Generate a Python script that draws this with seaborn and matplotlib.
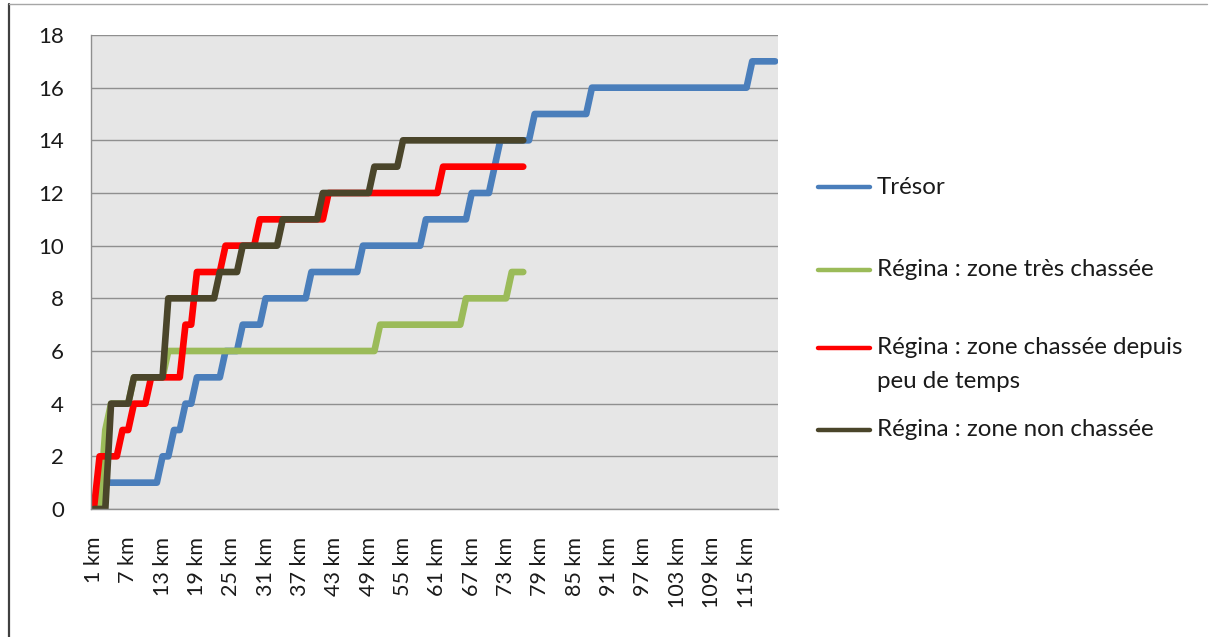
import numpy as np
import pandas as pd
import matplotlib
matplotlib.use('Agg')
import matplotlib.pyplot as plt
from matplotlib.lines import Line2D
import seaborn as sns

# categories : one point per km, 1 km .. 120 km
km = np.arange(1, 121)
tick_km = np.arange(1, 121, 6)
tick_labels = [f"{k} km" for k in tick_km]

# values, stored as (level, number of km at that level)
tresor_levels = [0, 1, 2, 3, 4, 5, 6, 7, 8, 9, 10, 11, 12, 13, 14, 15, 16, 17]
tresor_runs = [1, 11, 2, 2, 2, 5, 3, 4, 8, 9, 11, 8, 4, 1, 6, 10, 28, 5]

tres_chassee_levels = [0, 3, 4, 5, 6, 7, 8, 9]
tres_chassee_runs = [2, 1, 4, 6, 37, 15, 8, 3]

depuis_peu_levels = [0, 2, 3, 4, 5, 7, 9, 10, 11, 12, 13]
depuis_peu_runs = [1, 4, 2, 3, 6, 2, 5, 6, 12, 20, 15]

non_chassee_levels = [0, 4, 5, 8, 9, 10, 11, 12, 13, 14]
non_chassee_runs = [3, 4, 6, 9, 4, 7, 7, 9, 5, 22]

series_names = ["Trésor",
                "Régina : zone très chassée",
                "Régina : zone chassée depuis peu de temps",
                "Régina : zone non chassée"]
colors = ["#4A7EBB", "#9BBB59", "#FF0000", "#4A452A"]

series_data = [(tresor_levels, tresor_runs),
               (tres_chassee_levels, tres_chassee_runs),
               (depuis_peu_levels, depuis_peu_runs),
               (non_chassee_levels, non_chassee_runs)]

rows = []
for name, (lev, runs) in zip(series_names, series_data):
    vals = np.repeat(lev, runs)
    for k, v in zip(km[:len(vals)], vals):
        rows.append({"km": k, "n": v, "serie": name})
df = pd.DataFrame(rows)

sns.set_style("white")
plt.rcParams['font.family'] = ['Lato', 'DejaVu Sans']

W, H = 1214, 637
fig = plt.figure(figsize=(W / 100, H / 100), dpi=100)
ax = fig.add_axes([91 / W, 1 - 509 / H, (778 - 91) / W, (509 - 35) / H])
ax.set_facecolor("#E6E6E6")

sns.lineplot(data=df, x="km", y="n", hue="serie", hue_order=series_names,
             palette=colors, linewidth=4.8, legend=False, errorbar=None, ax=ax)
for ln in ax.lines:
    ln.set_solid_capstyle("round")
    ln.set_solid_joinstyle("round")

ax.set_xlim(0.5, 120.5)
ax.set_ylim(0, 18)
ax.set_yticks(np.arange(0, 19, 2))
ax.yaxis.grid(True, color="#8F8F8F", lw=1.0)
ax.xaxis.grid(False)
ax.set_axisbelow(True)

for s in ["top", "right"]:
    ax.spines[s].set_visible(False)
for s in ["left", "bottom"]:
    ax.spines[s].set_color("#8F8F8F")
    ax.spines[s].set_linewidth(1.0)

ax.set_xticks(tick_km)
ax.set_xticklabels(tick_labels, rotation=90)
ax.set_xticks(np.arange(0.5, 121, 1), minor=True)
ax.tick_params(axis="x", which="major", length=0, pad=20, labelsize=15.5, labelcolor="#1a1a1a")
ax.tick_params(axis="x", which="minor", length=5, width=0.8, color="#8F8F8F", direction="out")
ax.tick_params(axis="y", length=6.5, width=1.0, color="#8F8F8F", pad=13, labelsize=16,
               labelcolor="#1a1a1a")
ax.set_xlabel("")
ax.set_ylabel("")

# legend drawn by hand to keep the Excel spacing
leg_y = [187, 270, 348, 430]
for name, c, y in zip(series_names, colors, leg_y):
    fig.add_artist(Line2D([818 / W, 870 / W], [1 - y / H, 1 - y / H], color=c, lw=3.2,
                          solid_capstyle="round", transform=fig.transFigure))
leg_text = ["Trésor", "Régina : zone très chassée", "Régina : zone chassée depuis",
            "Régina : zone non chassée"]
for t, y in zip(leg_text, leg_y):
    fig.text(877 / W, 1 - y / H, t, fontsize=17.4, va="center", ha="left", color="#1a1a1a")
fig.text(877 / W, 1 - 381 / H, "peu de temps", fontsize=17.4, va="center", ha="left",
         color="#1a1a1a")

# frame of the original screenshot
fig.add_artist(Line2D([9 / W, 9 / W], [0, 1 - 4 / H], color="#404040", lw=1.6,
                      transform=fig.transFigure))
fig.add_artist(Line2D([9 / W, 1207 / W], [1 - 4 / H, 1 - 4 / H], color="#A6A6A6", lw=1.0,
                      transform=fig.transFigure))

fig.savefig("out.png", dpi=100)
